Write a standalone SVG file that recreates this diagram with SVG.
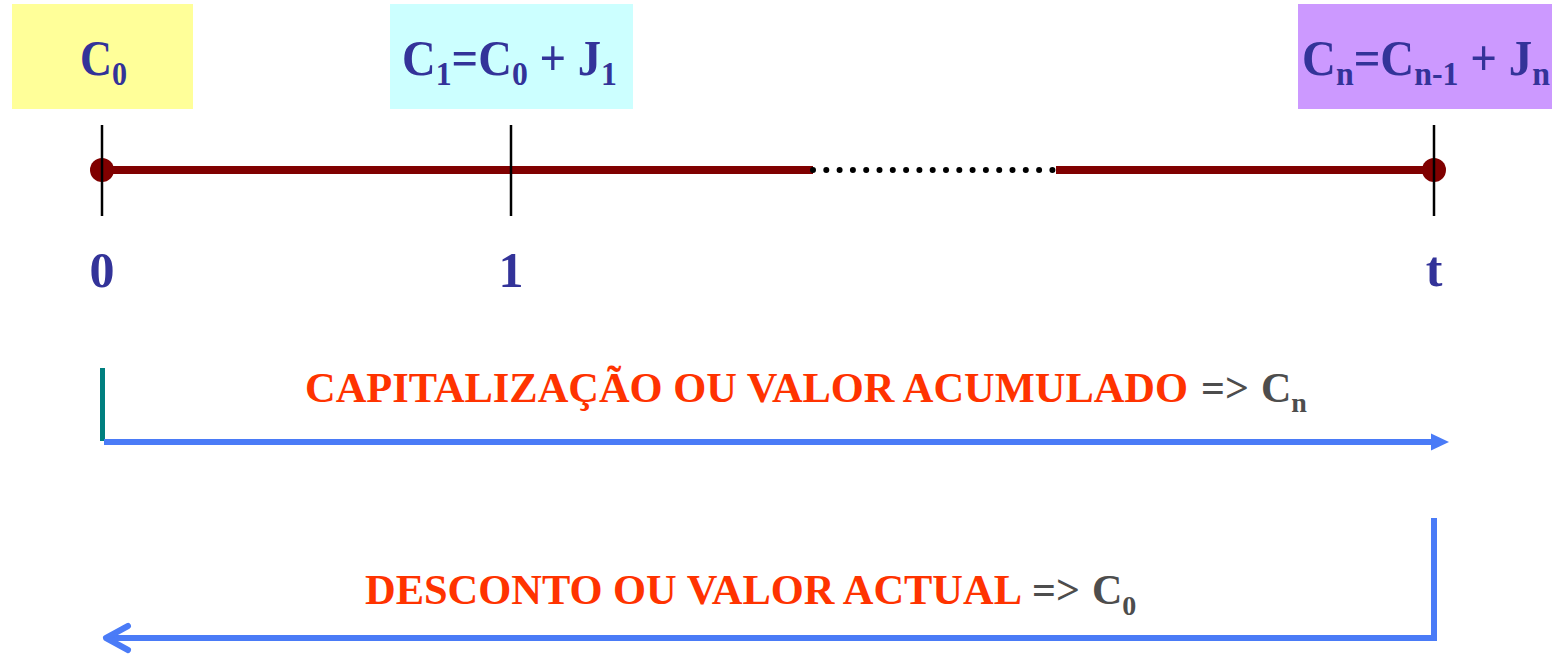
<svg xmlns="http://www.w3.org/2000/svg" width="1552" height="659" viewBox="0 0 1552 659">
<style>
.t{font-family:"Liberation Serif","Times New Roman",serif;font-weight:bold;}
.navy{fill:#333399;}
.red{fill:#FF3300;}
.gray{fill:#4D4D4D;}
.tick{stroke:#000;stroke-width:2.5;}
.axis{stroke:#800000;stroke-width:8;}
.blue{stroke:#4A7BF7;stroke-width:6;fill:none;}
</style>
<rect width="1552" height="659" fill="#fff"/>
<g id="box-c0">
<rect x="12" y="4" width="181" height="105" fill="#FFFF99"/>
<text class="t navy" x="80" y="75" font-size="50" textLength="47" lengthAdjust="spacingAndGlyphs">C<tspan font-size="34" dy="10">0</tspan></text>
</g>
<g id="box-c1">
<rect x="390" y="4" width="243" height="105" fill="#CCFFFF"/>
<text class="t navy" x="402" y="75" font-size="50" textLength="215" lengthAdjust="spacingAndGlyphs">C<tspan font-size="34" dy="10">1</tspan><tspan dy="-10">=C</tspan><tspan font-size="34" dy="10">0</tspan><tspan dy="-10"> + J</tspan><tspan font-size="34" dy="10">1</tspan></text>
</g>
<g id="box-cn">
<rect x="1298" y="4" width="254" height="105" fill="#CC99FF"/>
<text class="t navy" x="1302" y="75" font-size="50" textLength="248" lengthAdjust="spacingAndGlyphs">C<tspan font-size="34" dy="10">n</tspan><tspan dy="-10">=C</tspan><tspan font-size="34" dy="10">n-1</tspan><tspan dy="-10"> + J</tspan><tspan font-size="34" dy="10">n</tspan></text>
</g>
<g id="timeline">
<line class="axis" x1="102" y1="170" x2="813" y2="170"/>
<line x1="813" y1="170" x2="1056" y2="170" stroke="#000" stroke-width="6" stroke-linecap="round" stroke-dasharray="0 13.3"/>
<line class="axis" x1="1056" y1="170" x2="1434" y2="170"/>
<circle cx="102" cy="170" r="12" fill="#800000"/>
<circle cx="1434" cy="170" r="12" fill="#800000"/>
<line class="tick" x1="102" y1="125" x2="102" y2="216"/>
<line class="tick" x1="511" y1="125" x2="511" y2="216"/>
<line class="tick" x1="1434" y1="125" x2="1434" y2="216"/>
</g>
<g id="labels">
<text class="t navy" x="102" y="287" font-size="50" text-anchor="middle">0</text>
<text class="t navy" x="511" y="287" font-size="50" text-anchor="middle">1</text>
<text class="t navy" x="1434" y="286" font-size="50" text-anchor="middle">t</text>
</g>
<g id="capitalizacao">
<rect x="100" y="368" width="5" height="73" fill="#007F7F"/>
<text class="t red" x="305" y="402" font-size="42" textLength="883" lengthAdjust="spacingAndGlyphs">CAPITALIZAÇÃO OU VALOR ACUMULADO</text>
<text class="t gray" x="1201" y="402" font-size="42">=&gt;</text>
<text class="t gray" x="1261" y="402" font-size="42">C<tspan font-size="28" dy="10">n</tspan></text>
</g>
<g id="desconto">
<text class="t red" x="365" y="604" font-size="42" textLength="657" lengthAdjust="spacingAndGlyphs">DESCONTO OU VALOR ACTUAL</text>
<text class="t gray" x="1032" y="604" font-size="42">=&gt;</text>
<text class="t gray" x="1092" y="604" font-size="42">C<tspan font-size="28" dy="11">0</tspan></text>
</g>
<g id="connectors">
<line class="blue" x1="104" y1="442" x2="1432" y2="442"/>
<polygon points="1431,433.5 1449,442 1431,450.5" fill="#4A7BF7"/>
<polyline class="blue" points="1434,518 1434,638 106,638" stroke-linejoin="miter"/>
<polyline class="blue" points="128,626 106,638 128,650" stroke-linecap="round" stroke-linejoin="round"/>
</g>
</svg>
